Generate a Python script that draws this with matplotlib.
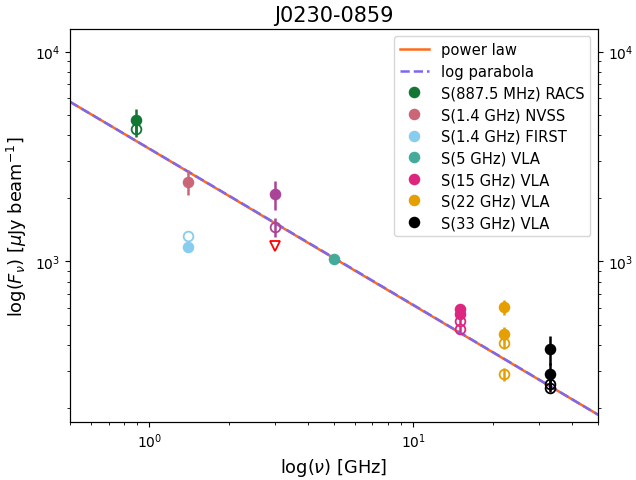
import numpy as np
import matplotlib
matplotlib.use("Agg")
import matplotlib.pyplot as plt

# fit parameters (power law / log parabola), S in uJy, nu in GHz
pl_norm = 3440.0
pl_alpha = -0.745
lp_norm = 3445.0
lp_alpha = -0.742
lp_beta = -0.002

# measurements: (freq, flux, err), filled = one epoch, open = other epoch
racs_nu, racs_s, racs_e = [0.8875], [4710], [600]
racs_open_s, racs_open_e = [4285], [350]

nvss_nu, nvss_s, nvss_e = [1.4], [2393], [320]
first_nu, first_s, first_e = [1.4], [1171], [0]
first_open_s = [1321]

vlass_nu, vlass_s, vlass_e = [3.0], [2092], [330]
vlass_open_s, vlass_open_e = [1459], [145]
vlass_lim = [1184]

vla5_nu, vla5_s, vla5_e = [5.0], [1022], [0]

vla15_nu = [15.0, 15.0]
vla15_s, vla15_e = [592, 560], [25, 20]
vla15_open_s, vla15_open_e = [520, 478], [15, 15]

vla22_nu = [22.0, 22.0]
vla22_s, vla22_e = [604, 451], [48, 35]
vla22_open_s, vla22_open_e = [411, 290], [30, 20]

vla33_nu = [33.0, 33.0]
vla33_s, vla33_e = [382, 290], [60, 40]
vla33_open_s, vla33_open_e = [262, 251], [18, 12]

c_racs = "#117733"
c_nvss = "#CC6677"
c_first = "#88CCEE"
c_vlass = "#AA4499"
c_vla5 = "#44AA99"
c_vla15 = "#DC267F"
c_vla22 = "#E69F00"
c_vla33 = "black"

fig, ax = plt.subplots(figsize=(6.36, 4.81), dpi=100)
fig.subplots_adjust(left=0.110, right=0.940, bottom=0.1206, top=0.9376)

nu = np.logspace(np.log10(0.5), np.log10(50), 200)
ax.plot(nu, pl_norm * nu**pl_alpha, color="#ff6a1a", lw=1.8, label="power law")
ax.plot(nu, lp_norm * nu**(lp_alpha + lp_beta * np.log10(nu)), color="#7b68ee",
        lw=1.8, ls="--", label="log parabola")

ms = 7
elw = 1.8


def pts(x, y, e, c, label=None, filled=True):
    ax.errorbar(x, y, yerr=e, fmt="o", color=c, ms=ms, elinewidth=elw,
                mfc=c if filled else "none", mec=c, mew=1.3, label=label)


pts(racs_nu, racs_s, racs_e, c_racs, "S(887.5 MHz) RACS")
pts(racs_nu, racs_open_s, racs_open_e, c_racs, filled=False)
pts(nvss_nu, nvss_s, nvss_e, c_nvss, "S(1.4 GHz) NVSS")
pts(first_nu, first_s, first_e, c_first, "S(1.4 GHz) FIRST")
pts(first_nu, first_open_s, [0], c_first, filled=False)
pts(vlass_nu, vlass_s, vlass_e, c_vlass)
pts(vlass_nu, vlass_open_s, vlass_open_e, c_vlass, filled=False)
ax.plot(vlass_nu, vlass_lim, "v", ms=ms, mfc="none", mec="red", mew=1.3)
pts(vla5_nu, vla5_s, vla5_e, c_vla5, "S(5 GHz) VLA")
pts(vla15_nu, vla15_s, vla15_e, c_vla15, "S(15 GHz) VLA")
pts(vla15_nu, vla15_open_s, vla15_open_e, c_vla15, filled=False)
pts(vla22_nu, vla22_s, vla22_e, c_vla22, "S(22 GHz) VLA")
pts(vla22_nu, vla22_open_s, vla22_open_e, c_vla22, filled=False)
pts(vla33_nu, vla33_s, vla33_e, c_vla33, "S(33 GHz) VLA")
pts(vla33_nu, vla33_open_s, vla33_open_e, c_vla33, filled=False)

ax.set_xscale("log")
ax.set_yscale("log")
ax.set_xlim(0.5, 50)
ax.set_ylim(172, 12800)
ax.set_xlabel(r"log($\nu$) [GHz]", fontsize=12.8)
ax.set_ylabel(r"log($F_\nu$) [$\mu$Jy beam$^{-1}$]", fontsize=12.8)
ax.set_title("J0230-0859", fontsize=15)

# legend: only labelled entries, markers without error bars
handles, labels = ax.get_legend_handles_labels()
new_h = []
for h in handles:
    if hasattr(h, "lines"):
        new_h.append(h[0])
    else:
        new_h.append(h)
ax.legend(new_h, labels, loc="upper right", fontsize=10.6, labelspacing=0.45)

ax2 = ax.twinx()
ax2.set_yscale("log")
ax2.set_ylim(ax.get_ylim())

fig.savefig("out.png", dpi=100)
